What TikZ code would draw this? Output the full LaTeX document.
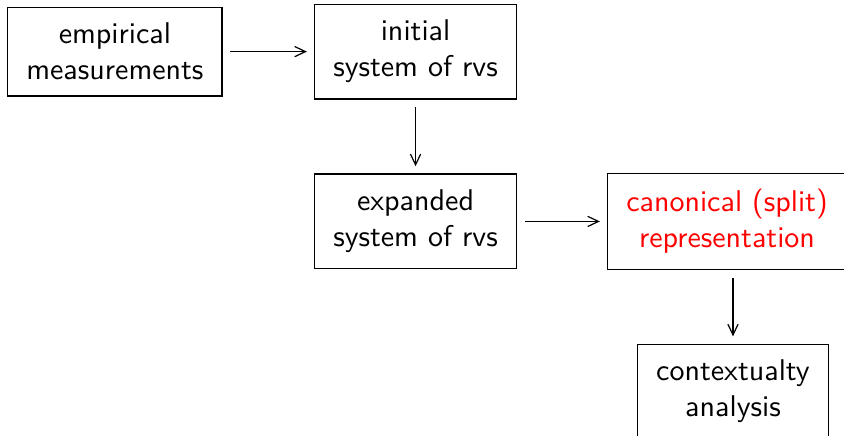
\documentclass[tikz,border=0pt]{standalone}
\usepackage{xcolor}
\usetikzlibrary{arrows.meta}
\tikzset{
  stagebox/.style={draw, align=center, font=\sffamily, inner xsep=6.2pt, inner ysep=5.3pt},
  flowarrow/.style={-{Straight Barb[length=3.6pt,width=3.4pt]}, shorten >=2.4pt, shorten <=2.6pt}
}
\begin{document}
\begin{tikzpicture}[x=1pt,y=-1pt]
    % Khung hình
    \useasboundingbox (0,0) rectangle (281.3,145);
    
    % Các hộp
    \node[stagebox] (empirical) at (38.3,17.2) {empirical\\measurements};
    \node[stagebox] (initial) at (138.5,17.2) {initial\\system of rvs};
    \node[stagebox] (expanded) at (138.5,73.8) {expanded\\system of rvs};
    \node[stagebox, text=red] (canonical) at (242.3,73.8) {canonical (split)\\representation};
    \node[stagebox] (context) at (244.3,130.5) {contextualty\\analysis};
    
    % Các mũi tên
    \draw[flowarrow] (empirical) -- (initial);
    \draw[flowarrow] (initial) -- (expanded);
    \draw[flowarrow] (expanded) -- (canonical);
    \draw[flowarrow] (canonical.south -| context.north) -- (context.north);
\end{tikzpicture}
\end{document}
